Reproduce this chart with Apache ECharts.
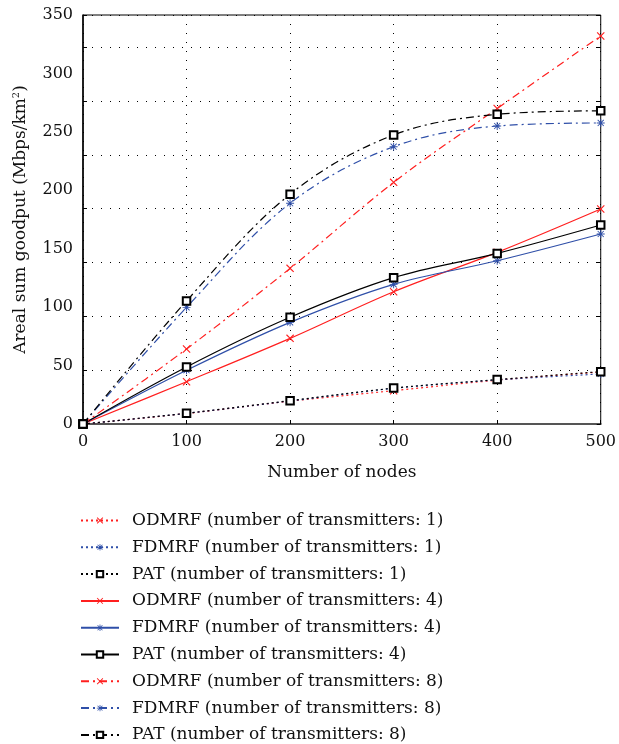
<!DOCTYPE html>
<html>
<head>
<meta charset="utf-8">
<script src="https://cdn.jsdelivr.net/npm/echarts@6/dist/echarts.min.js"></script>
<style>
html,body{margin:0;padding:0;background:#fff;}
#chart{width:619px;height:744px;}
</style>
</head>
<body>
<div id="chart"></div>
<script>
// number of nodes
var nodes = [0, 100, 200, 300, 400, 500];
var yTicks = [0, 50, 100, 150, 200, 250, 300, 350];

// transmitters: 1
var odmrf1 = [0, 9, 19.5, 28.5, 37.5, 44.5];
var fdmrf1 = [0, 9.1, 19.7, 30.5, 37.7, 42.8];
var pat1 = [0, 9.2, 20, 30.7, 38, 44.8];
// transmitters: 4
var odmrf4 = [0, 36.2, 73.3, 113.2, 146.9, 184];
var fdmrf4 = [0, 46, 87, 119.5, 139.7, 162.6];
var pat4 = [0, 48.8, 91.3, 125.2, 146, 170.3];
// transmitters: 8
var odmrf8 = [0, 64.2, 133.2, 206.8, 270, 332];
var fdmrf8 = [0, 99.8, 188.9, 237.3, 255, 257.6];
var pat8 = [0, 105.3, 196.6, 247.3, 265, 268];

var RED = '#ff1f1f', BLUE = '#2f4fa8', BLACK = '#000';
var FONT = 'DejaVu Serif';

// marker paths
var xMark = 'path://M0,1L1,0L5,4L9,0L10,1L6,5L10,9L9,10L5,6L1,10L0,9L4,5Z';
var starMark = 'path://M4.4,0H5.6V10H4.4Z M0,4.4H10V5.6H0Z M0.8,1.6L1.6,0.8L9.2,8.4L8.4,9.2Z M8.4,0.8L9.2,1.6L1.6,9.2L0.8,8.4Z';

function pairs(arr){
	var out = [];
	for(var i=0;i<nodes.length;i++){
		out.push([nodes[i], arr[i]]);
	}
	return out;
}

function makeSeries(name, arr, color, type, mark){
	var s = {
		name: name,
		type: 'line',
		yAxisIndex: 0,
		data: pairs(arr),
		smooth: 0.35,
		color: color,
		lineStyle: {color: color, width: 1.2, type: type},
		symbol: mark,
		symbolSize: 8,
		itemStyle: {color: color}
	};
	if(mark == 'emptyRect'){
		s.symbolSize = 7.5;
		s.itemStyle = {color: color, borderColor: color, borderWidth: 1.3};
	}
	//星号画在方块上面
	if(mark == starMark){
		s.z = 3;
	}
	return s;
}

var DOT = [2, 3], DASHDOT = [8, 4, 2, 4];

var seriesList = [
	makeSeries('ODMRF (number of transmitters: 1)', odmrf1, RED, DOT, xMark),
	makeSeries('FDMRF (number of transmitters: 1)', fdmrf1, BLUE, DOT, starMark),
	makeSeries('PAT (number of transmitters: 1)', pat1, BLACK, DOT, 'emptyRect'),
	makeSeries('ODMRF (number of transmitters: 4)', odmrf4, RED, 'solid', xMark),
	makeSeries('FDMRF (number of transmitters: 4)', fdmrf4, BLUE, 'solid', starMark),
	makeSeries('PAT (number of transmitters: 4)', pat4, BLACK, 'solid', 'emptyRect'),
	makeSeries('ODMRF (number of transmitters: 8)', odmrf8, RED, DASHDOT, xMark),
	makeSeries('FDMRF (number of transmitters: 8)', fdmrf8, BLUE, DASHDOT, starMark),
	makeSeries('PAT (number of transmitters: 8)', pat8, BLACK, DASHDOT, 'emptyRect')
];

var names = [];
for(var i=0;i<seriesList.length;i++){ names.push(seriesList[i].name); }

var myChart = echarts.init(document.getElementById('chart'));
var option = {
	animation: false,
	backgroundColor: '#fff',
	textStyle: {fontFamily: FONT},
	grid: {
		left: 83, right: 16, top: 15, bottom: 320,
		show: true, borderColor: '#000', borderWidth: 1, backgroundColor: 'transparent'
	},
	legend: {
		data: names,
		orient: 'vertical',
		left: 80,
		top: 512,
		height: 232,
		padding: 0,
		itemWidth: 38,
		itemHeight: 8,
		itemGap: 9.8,
		textStyle: {fontFamily: FONT, fontSize: 17, color: '#111', padding: [0, 0, 0, 8]}
	},
	xAxis: {
		type: 'value',
		min: 0, max: 500, interval: 100,
		name: 'Number of nodes',
		nameLocation: 'middle',
		nameGap: 40,
		nameTextStyle: {fontFamily: FONT, fontSize: 17, color: '#111'},
		axisLine: {show: true, onZero: false, lineStyle: {color: '#555', width: 2}},
		axisTick: {show: true, inside: true, length: 4, lineStyle: {color: '#000'}},
		axisLabel: {fontFamily: FONT, fontSize: 16, color: '#111', margin: 10},
		splitLine: {show: true, lineStyle: {color: '#000', type: [1, 8], width: 1}}
	},
	yAxis: [
		{
			// labelled scale
			type: 'value',
			position: 'left',
			min: 0, max: 350, interval: 50,
			name: 'Areal sum goodput (Mbps/km{sup|2})',
			nameLocation: 'middle',
			nameGap: 52,
			nameRotate: 90,
			nameTextStyle: {
				fontFamily: FONT, fontSize: 17, color: '#111',
				rich: {sup: {fontFamily: FONT, fontSize: 10, color: '#111', verticalAlign: 'top', padding: [0, 0, 10, 0]}}
			},
			axisLine: {show: true, lineStyle: {color: '#000', width: 1.5}},
			axisTick: {show: false},
			axisLabel: {fontFamily: FONT, fontSize: 16, color: '#111', margin: 10},
			splitLine: {show: false}
		},
		{
			// grid / tick scale
			type: 'value',
			position: 'left',
			offset: 0,
			min: 0, max: 380, interval: 50,
			axisLine: {show: false},
			axisTick: {show: true, inside: true, length: 4, lineStyle: {color: '#000'}},
			axisLabel: {show: false},
			splitLine: {show: true, lineStyle: {color: '#000', type: [1, 8], width: 1}}
		},
		{
			type: 'value',
			position: 'right',
			min: 0, max: 380, interval: 50,
			axisLine: {show: false},
			axisTick: {show: true, inside: true, length: 4, lineStyle: {color: '#000'}},
			axisLabel: {show: false},
			splitLine: {show: false}
		}
	],
	series: seriesList
};
myChart.setOption(option);
</script>
</body>
</html>
